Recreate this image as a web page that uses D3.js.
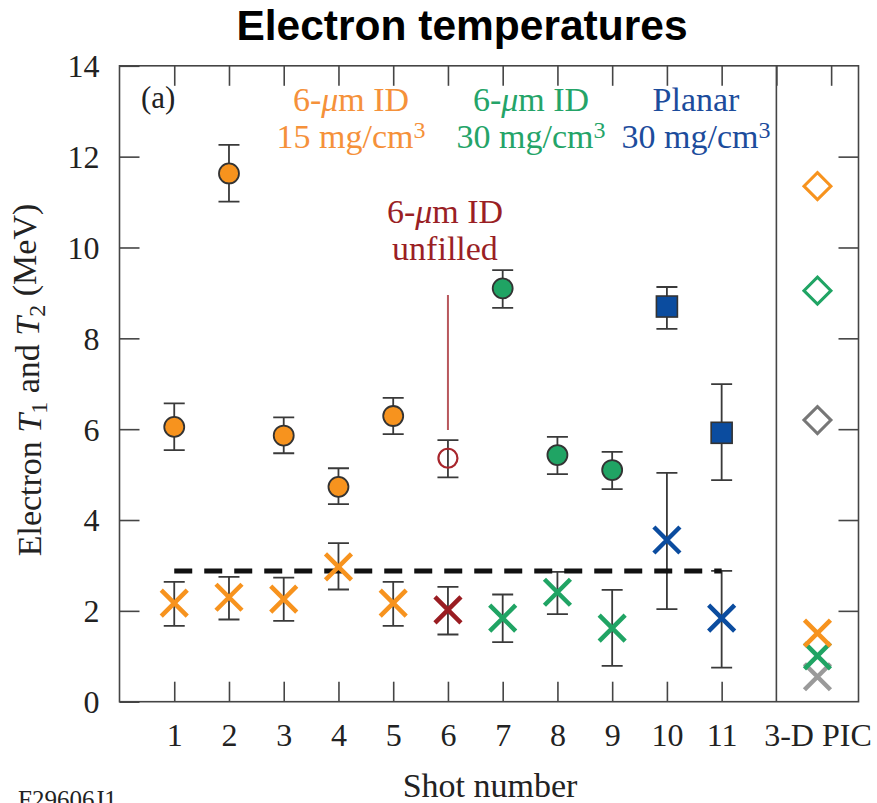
<!DOCTYPE html>
<html>
<head>
<meta charset="utf-8">
<script src="https://cdn.jsdelivr.net/npm/d3@7"></script>
<style>
  html, body { margin: 0; padding: 0; background: #fff; }
  svg { display: block; }
  text { font-family: "Liberation Serif", "Times New Roman", serif; }
</style>
</head>
<body>
<svg id="chart" width="877" height="803"></svg>
<script>
// Shot-by-shot electron temperatures (MeV)
const shots = [1, 2, 3, 4, 5, 6, 7, 8, 9, 10, 11];
const targetType = ["id15", "id15", "id15", "id15", "id15", "unfilled", "id30", "id30", "id30", "planar", "planar"];

// Hot component T2 with error range
const t2Values = [6.05, 11.63, 5.86, 4.73, 6.29, 5.36, 9.10, 5.43, 5.10, 8.70, 5.92];
const t2Low    = [5.54, 11.01, 5.47, 4.35, 5.89, 4.94, 8.67, 5.01, 4.68, 8.21, 4.88];
const t2High   = [6.57, 12.26, 6.26, 5.14, 6.69, 5.76, 9.50, 5.83, 5.50, 9.13, 6.99];

// Cool component T1 with error range
const t1Values = [2.17, 2.30, 2.26, 2.97, 2.17, 2.02, 1.84, 2.41, 1.62, 3.56, 1.84];
const t1Low    = [1.67, 1.81, 1.78, 2.47, 1.67, 1.48, 1.31, 1.93, 0.79, 2.04, 0.75];
const t1High   = [2.64, 2.75, 2.73, 3.49, 2.64, 2.53, 2.36, 2.86, 2.46, 5.04, 2.88];

// Average T1 across shots
const meanT1 = 2.88;

// 3-D PIC simulation results (15 mg/cm3, 30 mg/cm3, unfilled)
const picCases = ["id15", "id30", "gray"];
const picT2 = [11.35, 9.05, 6.20];
const picT1 = [1.51, 1.01, 0.55];

// Axis labels
const xTickLabels = ["1", "2", "3", "4", "5", "6", "7", "8", "9", "10", "11", "3-D PIC"];
const yTicks = [0, 2, 4, 6, 8, 10, 12, 14];

const colors = {
  id15: "#F7931E",
  id30: "#20A464",
  planar: "#0B4C9F",
  unfilled: "#9A1D22",
  gray: "#9A9A9A"
};
const textColors = {
  id15: "#F5913A",
  id30: "#24A468",
  planar: "#1C4C9C",
  unfilled: "#9A1F25"
};
const frameColor = "#454545";
const inkColor = "#222";

const svg = d3.select("#chart");

const picPos = 12.75;
const x = d3.scaleLinear().domain([0, 13.5]).range([119.5, 858.5]);
const y = d3.scaleLinear().domain([0, 14]).range([701.7, 65.8]);

// Title
svg.append("text")
  .attr("x", 462).attr("y", 40)
  .attr("text-anchor", "middle")
  .style("font-family", "'Liberation Sans', Arial, sans-serif")
  .style("font-weight", "bold")
  .style("font-size", "42.5px")
  .attr("fill", "#000")
  .text("Electron temperatures");

// Axes with inward ticks
const axisStyle = g => {
  g.selectAll(".domain").remove();
  g.selectAll(".tick line").attr("stroke", frameColor).attr("stroke-width", 1.6);
  g.selectAll(".tick text").attr("fill", inkColor).style("font-size", "32px")
    .style("font-family", "'Liberation Serif', serif");
};

svg.append("g")
  .attr("transform", `translate(${x(0)},0)`)
  .call(d3.axisLeft(y).tickValues(yTicks).tickSize(-20).tickPadding(20).tickFormat(d3.format("d")))
  .call(axisStyle)
  .call(g => g.selectAll(".tick text").attr("dy", "0.34em"));

svg.append("g")
  .attr("transform", `translate(${x(13.5)},0)`)
  .call(d3.axisRight(y).tickValues(yTicks.slice(1, -1)).tickSize(-20).tickFormat(""))
  .call(axisStyle);

svg.append("g")
  .attr("transform", `translate(0,${y(14)})`)
  .call(d3.axisTop(x).tickValues(d3.range(1, 14)).tickSize(-20).tickFormat(""))
  .call(axisStyle);

const bottomTicks = shots.concat([picPos]);
svg.append("g")
  .attr("transform", `translate(0,${y(0)})`)
  .call(d3.axisBottom(x).tickValues(bottomTicks).tickSize(-20).tickPadding(22)
    .tickFormat((d, i) => xTickLabels[i]))
  .call(axisStyle)
  .call(g => g.selectAll(".tick").filter(d => d === picPos).select("line").remove());

// Frame and separator for the simulation column
svg.append("rect")
  .attr("x", x(0)).attr("y", y(14))
  .attr("width", x(13.5) - x(0)).attr("height", y(0) - y(14))
  .attr("fill", "none").attr("stroke", frameColor).attr("stroke-width", 1.6);
svg.append("line")
  .attr("x1", x(12)).attr("x2", x(12)).attr("y1", y(14)).attr("y2", y(0))
  .attr("stroke", frameColor).attr("stroke-width", 1.6);

// Axis titles
svg.append("text")
  .attr("x", 490).attr("y", 797)
  .attr("text-anchor", "middle")
  .attr("fill", inkColor).style("font-size", "34px")
  .text("Shot number");

const yLab = svg.append("text")
  .attr("transform", "translate(41,380) rotate(-90)")
  .attr("text-anchor", "middle")
  .attr("fill", inkColor).style("font-size", "34px");
yLab.append("tspan").text("Electron ");
yLab.append("tspan").style("font-style", "italic").text("T");
yLab.append("tspan").attr("dy", "0.25em").style("font-size", "24px").text("1");
yLab.append("tspan").attr("dy", "-0.25em").text(" and ");
yLab.append("tspan").style("font-style", "italic").text("T");
yLab.append("tspan").attr("dy", "0.25em").style("font-size", "24px").text("2");
yLab.append("tspan").attr("dy", "-0.25em").text(" (MeV)");

// Figure id, partly below the lower edge
svg.append("text")
  .attr("x", 18).attr("y", 808)
  .attr("fill", inkColor).style("font-size", "25px")
  .text("F29606J1");

svg.append("text")
  .attr("x", 141).attr("y", 108)
  .attr("fill", inkColor).style("font-size", "31px")
  .text("(a)");

// Target-type annotations
function groupLabel(cx, y1, color, line1, density) {
  const t1 = svg.append("text").attr("x", cx).attr("y", y1)
    .attr("text-anchor", "middle").attr("fill", color).style("font-size", "34px");
  if (line1 === "ID") {
    t1.append("tspan").text("6-");
    t1.append("tspan").style("font-style", "italic").text("\u03bc");
    t1.append("tspan").text("m ID");
  } else {
    t1.text(line1);
  }
  const t2 = svg.append("text").attr("x", cx).attr("y", y1 + 37)
    .attr("text-anchor", "middle").attr("fill", color).style("font-size", "34px");
  if (density) {
    t2.append("tspan").text(density + " mg/cm");
    t2.append("tspan").attr("dy", "-0.4em").style("font-size", "24px").text("3");
  }
  return t2;
}
groupLabel(351, 111, textColors.id15, "ID", "15");
groupLabel(531, 111, textColors.id30, "ID", "30");
groupLabel(696, 111, textColors.planar, "Planar", "30");
groupLabel(445, 223, textColors.unfilled, "ID", null).text("unfilled");

// Pointer from the "unfilled" label down to shot 6
svg.append("line")
  .attr("x1", x(6)).attr("x2", x(6)).attr("y1", 295).attr("y2", 430)
  .attr("stroke", "#B8575C").attr("stroke-width", 2);

// Error bars
const capHalf = 10.5;
function errorBars(lo, hi, cls) {
  const g = svg.append("g").attr("class", cls)
    .attr("stroke", "#3a3a3a").attr("stroke-width", 1.8).attr("fill", "none");
  shots.forEach((s, i) => {
    const cx = x(s);
    const p = d3.path();
    p.moveTo(cx, y(lo[i])); p.lineTo(cx, y(hi[i]));
    p.moveTo(cx - capHalf, y(lo[i])); p.lineTo(cx + capHalf, y(lo[i]));
    p.moveTo(cx - capHalf, y(hi[i])); p.lineTo(cx + capHalf, y(hi[i]));
    g.append("path").attr("d", p.toString());
  });
}
errorBars(t2Low, t2High, "err-t2");
errorBars(t1Low, t1High, "err-t1");

// Mean T1 dashed line
svg.append("line")
  .attr("x1", x(1)).attr("x2", x(11))
  .attr("y1", y(meanT1)).attr("y2", y(meanT1))
  .attr("stroke", "#111").attr("stroke-width", 5)
  .attr("stroke-dasharray", "18 12");

// T2 markers: circles for ID targets, squares for planar
shots.forEach((s, i) => {
  const type = targetType[i];
  const cx = x(s), cy = y(t2Values[i]);
  if (type === "planar") {
    svg.append("rect")
      .attr("x", cx - 10.5).attr("y", cy - 10.5).attr("width", 21).attr("height", 21)
      .attr("fill", colors.planar).attr("stroke", "#333").attr("stroke-width", 1.6);
  } else if (type === "unfilled") {
    svg.append("circle").attr("cx", cx).attr("cy", cy).attr("r", 9.5)
      .attr("fill", "none").attr("stroke", "#A8262C").attr("stroke-width", 2.2);
  } else {
    svg.append("circle").attr("cx", cx).attr("cy", cy).attr("r", 10)
      .attr("fill", colors[type]).attr("stroke", "#333").attr("stroke-width", 1.8);
  }
});

// T1 markers: crosses
const crossHalf = 13;
function cross(cx, cy, color) {
  const p = d3.path();
  p.moveTo(cx - crossHalf, cy - crossHalf); p.lineTo(cx + crossHalf, cy + crossHalf);
  p.moveTo(cx - crossHalf, cy + crossHalf); p.lineTo(cx + crossHalf, cy - crossHalf);
  svg.append("path").attr("d", p.toString())
    .attr("stroke", color).attr("stroke-width", 4.5).attr("fill", "none");
}
shots.forEach((s, i) => cross(x(s), y(t1Values[i]), colors[targetType[i]]));

// 3-D PIC results: diamonds for T2, crosses for T1
const dHalf = 13.5;
picCases.forEach((c, i) => {
  const cx = x(picPos), cy = y(picT2[i]);
  const p = d3.path();
  p.moveTo(cx, cy - dHalf); p.lineTo(cx + dHalf, cy); p.lineTo(cx, cy + dHalf); p.lineTo(cx - dHalf, cy); p.closePath();
  svg.append("path").attr("d", p.toString())
    .attr("fill", "#fff").attr("stroke", c === "gray" ? "#777" : colors[c]).attr("stroke-width", 3);
});
picCases.slice().reverse().forEach((c, j) => {
  const i = picCases.length - 1 - j;
  cross(x(picPos), y(picT1[i]), colors[c]);
});
</script>
</body>
</html>
